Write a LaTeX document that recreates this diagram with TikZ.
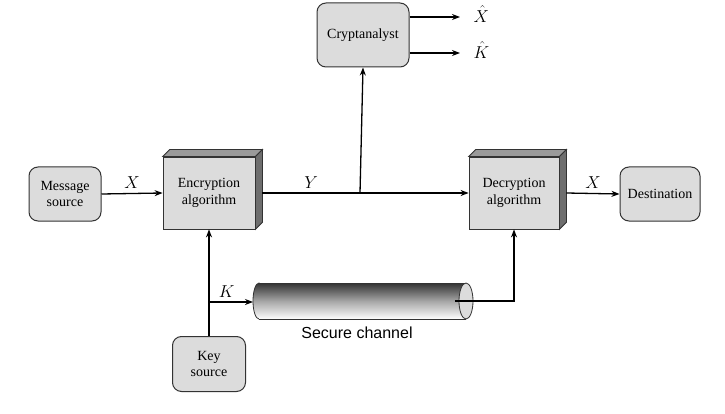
\documentclass[tikz,border=0pt]{standalone}
\usepackage{fontspec}
\setmainfont{Liberation Serif}
\newfontfamily\lsans{Liberation Sans}
\usetikzlibrary{arrows.meta,calc}
\definecolor{boxfill}{HTML}{DCDCDC}
\definecolor{boxline}{HTML}{333333}
\definecolor{topface}{HTML}{9A9A9A}
\definecolor{sideface}{HTML}{6E6E6E}
\begin{document}
\begin{tikzpicture}[x=1pt,y=-1pt,
  rbox/.style={draw=boxline,line width=1pt,fill=boxfill,rounded corners=9pt,align=center,
    inner sep=0pt,font=\fontsize{14}{16.5}\selectfont},
  cube/.style={draw=boxline,line width=0.8pt,fill=boxfill,align=center,inner sep=0pt,
    font=\fontsize{14}{16.5}\selectfont},
  conn/.style={line width=1.3pt,-{Stealth[length=8pt,width=6pt]}},
  line/.style={line width=1.3pt},
  lbl/.style={font=\fontsize{16}{16}\selectfont}]
\useasboundingbox (0,0) rectangle (725,414);

% nodes
\node[rbox,minimum width=72pt,minimum height=54pt] (msg) at (65,194) {Message\\source};
\node[cube,minimum width=92pt,minimum height=72pt] (enc) at (209,193) {Encryption\\algorithm};
\node[rbox,minimum width=92pt,minimum height=64pt] (crypt) at (363,35) {Cryptanalyst};
\node[cube,minimum width=90pt,minimum height=72pt] (dec) at (514,193) {Decryption\\algorithm};
\node[rbox,minimum width=80pt,minimum height=54pt] (dest) at (660,194) {Destination};
\node[rbox,minimum width=73pt,minimum height=55pt] (key) at (209,364) {Key\\source};

% 3D faces
\foreach \b in {enc,dec}{
  \filldraw[draw=boxline,line width=0.8pt,fill=topface]
    (\b.north west) -- ++(7,-7) -- ($(\b.north east)+(7,-7)$) -- (\b.north east) -- cycle;
  \filldraw[draw=boxline,line width=0.8pt,fill=sideface]
    (\b.north east) -- ++(7,-7) -- ($(\b.south east)+(7,-7)$) -- (\b.south east) -- cycle;
}

% secure channel pipe
\coordinate (pl) at (259,301);
\coordinate (pr) at (466,301);
\shade[top color=black!80,bottom color=white,middle color=black!35,draw=boxline,line width=0.8pt]
  (pl) ellipse [x radius=6, y radius=18];
\shade[top color=black!80,bottom color=white,middle color=black!35]
  (259,283) rectangle (466,319);
\draw[boxline,line width=0.8pt] (259,283) -- (466,283) (259,319) -- (466,319);
\filldraw[draw=boxline,line width=0.8pt,fill=boxfill] (pr) ellipse [x radius=7, y radius=18];
\node[font=\lsans\fontsize{16}{16}\selectfont] (sc) at (357,333) {Secure channel};

% connectors
\coordinate (j) at (360,193);
\coordinate (kb) at (209,302);
\coordinate (pin) at (253,302);
\coordinate (pout) at (455,301);
\draw[conn] (msg.east) -- node[lbl,above=1pt] {$X$} (enc.west);
\draw[line] ($(enc.east)+(7,0)$) -- node[lbl,above=1pt] {$Y$} (j);
\draw[conn] (j) -- (dec.west);
\draw[conn] (j) -- (crypt.south);
\draw[conn] (key.north) -- (enc.south);
\draw[conn] (kb) -- node[lbl,above=1pt,pos=0.4] {$K$} (pin);
\draw[conn] (pout) -| (dec.south);
\draw[conn] ($(dec.east)+(7,0)$) -- node[lbl,above=1pt] {$X$} (dest.west);

\coordinate (o1) at (460,17);
\coordinate (o2) at (460,53);
\draw[conn] (crypt.east |- o1) -- (o1);
\draw[conn] (crypt.east |- o2) -- (o2);
\node[lbl,anchor=west] (xh) at (470,14) {$\hat{X}$};
\node[lbl,anchor=west] (kh) at (470,50) {$\hat{K}$};
\end{tikzpicture}
\end{document}
